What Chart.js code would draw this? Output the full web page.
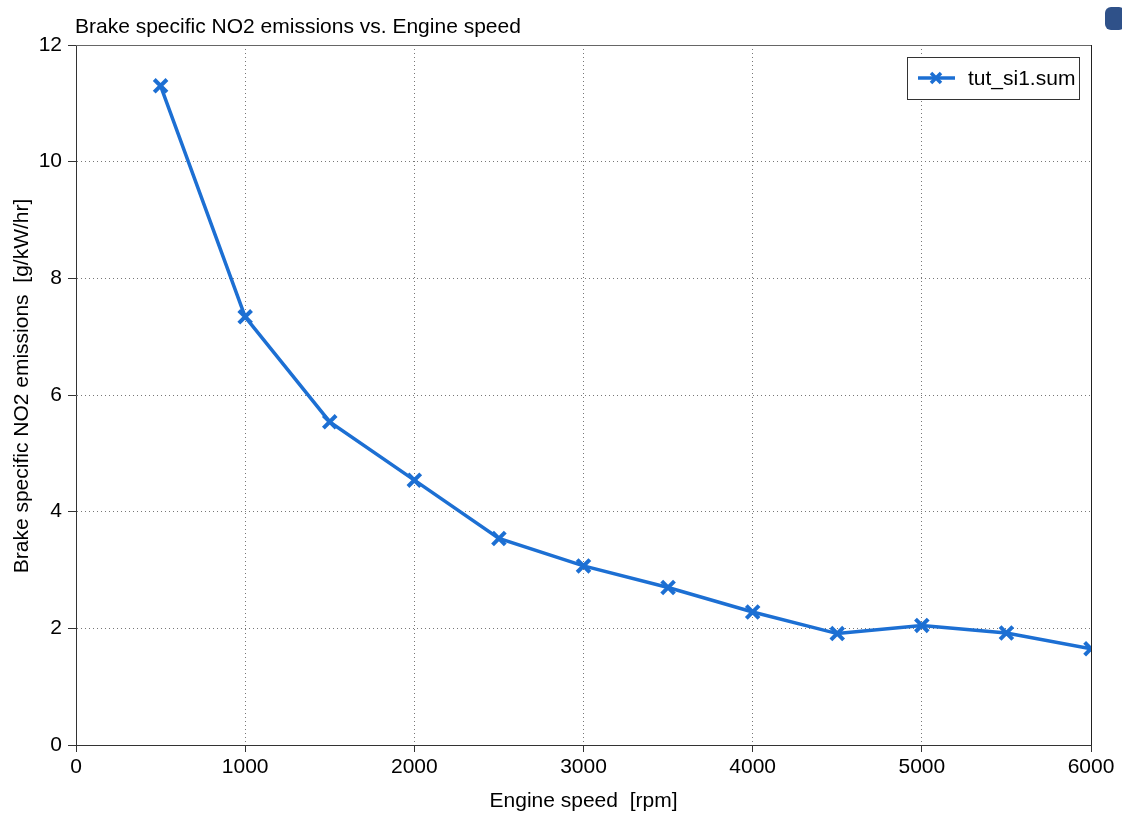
<!DOCTYPE html>
<html>
<head>
<meta charset="utf-8">
<script src="https://cdn.jsdelivr.net/npm/chart.js@4/dist/chart.umd.min.js"></script>
<style>
  html, body { margin: 0; padding: 0; background: #fff; overflow: hidden; }
  #wrap { position: relative; width: 1122px; height: 813px; }
  #tab { position: absolute; left: 1105px; top: 7px; width: 20px; height: 23px;
         background: #2f5189; border-radius: 6px; }
</style>
</head>
<body>
<div id="wrap">
  <canvas id="c" width="1122" height="813"></canvas>
  <div id="tab"></div>
</div>
<script>
// Engine speed sweep [rpm] and brake specific NO2 [g/kW/hr]
const engineSpeed = [500, 1000, 1500, 2000, 2500, 3000, 3500, 4000, 4500, 5000, 5500, 6000];
const bsNO2 = [11.30, 7.34, 5.54, 4.54, 3.54, 3.07, 2.70, 2.28, 1.91, 2.05, 1.92, 1.65];
const seriesName = 'tut_si1.sum';
const chartTitle = 'Brake specific NO2 emissions vs. Engine speed';
const xTitle = 'Engine speed  [rpm]';
const yTitle = 'Brake specific NO2 emissions  [g/kW/hr]';

const LINE = '#1c6fd3';
const FONT = '"Liberation Sans", Arial, Helvetica, sans-serif';
const FS = 21;

const framePlugin = {
  id: 'frame',
  afterDraw(chart) {
    const { ctx, chartArea: a } = chart;
    ctx.save();
    // plot frame (top and right edges)
    ctx.strokeStyle = '#666';
    ctx.lineWidth = 1;
    ctx.beginPath();
    ctx.moveTo(a.left, a.top + 0.5); ctx.lineTo(a.right, a.top + 0.5);
    ctx.stroke();
    ctx.strokeStyle = '#222';
    ctx.beginPath();
    ctx.moveTo(a.right + 0.5, a.top); ctx.lineTo(a.right + 0.5, a.bottom);
    ctx.stroke();

    // chart title
    ctx.fillStyle = '#000';
    ctx.font = FS + 'px ' + FONT;
    ctx.textBaseline = 'alphabetic';
    ctx.textAlign = 'left';
    ctx.fillText(chartTitle, a.left - 1, 33);

    // y axis title
    ctx.save();
    ctx.translate(22, 386);
    ctx.rotate(-Math.PI / 2);
    ctx.textAlign = 'center';
    ctx.textBaseline = 'middle';
    ctx.fillText(yTitle, 0, 0);
    ctx.restore();

    // legend box
    const bx = a.right - 184, by = a.top + 12, bw = 172, bh = 42;
    ctx.fillStyle = '#fff';
    ctx.fillRect(bx, by, bw, bh);
    ctx.strokeStyle = '#333';
    ctx.lineWidth = 1;
    ctx.strokeRect(bx + 0.5, by + 0.5, bw, bh);
    const ly = by + bh / 2;
    ctx.strokeStyle = LINE;
    ctx.lineWidth = 3.5;
    ctx.beginPath();
    ctx.moveTo(bx + 11, ly); ctx.lineTo(bx + 48, ly);
    ctx.stroke();
    const cx = bx + 29, r = 5;
    ctx.lineWidth = 3.5;
    ctx.beginPath();
    ctx.moveTo(cx - r, ly - r); ctx.lineTo(cx + r, ly + r);
    ctx.moveTo(cx - r, ly + r); ctx.lineTo(cx + r, ly - r);
    ctx.stroke();
    ctx.fillStyle = '#000';
    ctx.textAlign = 'left';
    ctx.textBaseline = 'middle';
    ctx.fillText(seriesName, bx + 61, ly + 1);
    ctx.restore();
  }
};

new Chart(document.getElementById('c'), {
  type: 'line',
  data: {
    labels: engineSpeed,
    datasets: [{
      label: seriesName,
      data: engineSpeed.map((x, i) => ({ x, y: bsNO2[i] })),
      borderColor: LINE,
      backgroundColor: LINE,
      borderWidth: 3.5,
      pointStyle: 'crossRot',
      pointRadius: 9,
      pointBorderWidth: 4,
      pointHoverRadius: 9,
      tension: 0
    }]
  },
  options: {
    responsive: false,
    animation: false,
    devicePixelRatio: 1,
    layout: { padding: { top: 45, right: 31, left: 0, bottom: 0 } },
    plugins: {
      legend: { display: false },
      title: { display: false },
      tooltip: { enabled: false }
    },
    scales: {
      x: {
        type: 'linear',
        min: 0, max: 6000,
        afterFit(s) { s.height = 68; },
        ticks: {
          stepSize: 1000, color: '#000', font: { family: FONT, size: FS }, padding: 3, maxRotation: 0,
          callback: v => String(v)
        },
        grid: { color: '#777', lineWidth: 1, tickLength: 7, tickColor: '#333', tickBorderDash: [] },
        border: { display: true, color: '#333', width: 1, dash: [1, 3] },
        title: { display: true, text: xTitle, color: '#000', font: { family: FONT, size: FS }, padding: { top: 4, bottom: -1 } }
      },
      y: {
        min: 0, max: 12,
        afterFit(s) { s.width = 76; },
        ticks: { stepSize: 2, color: '#000', font: { family: FONT, size: FS }, padding: 6 },
        grid: { color: '#777', lineWidth: 1, tickLength: 8, tickColor: '#333', tickBorderDash: [] },
        border: { display: true, color: '#333', width: 1, dash: [1, 3] },
        title: { display: false }
      }
    }
  },
  plugins: [framePlugin]
});
</script>
</body>
</html>
